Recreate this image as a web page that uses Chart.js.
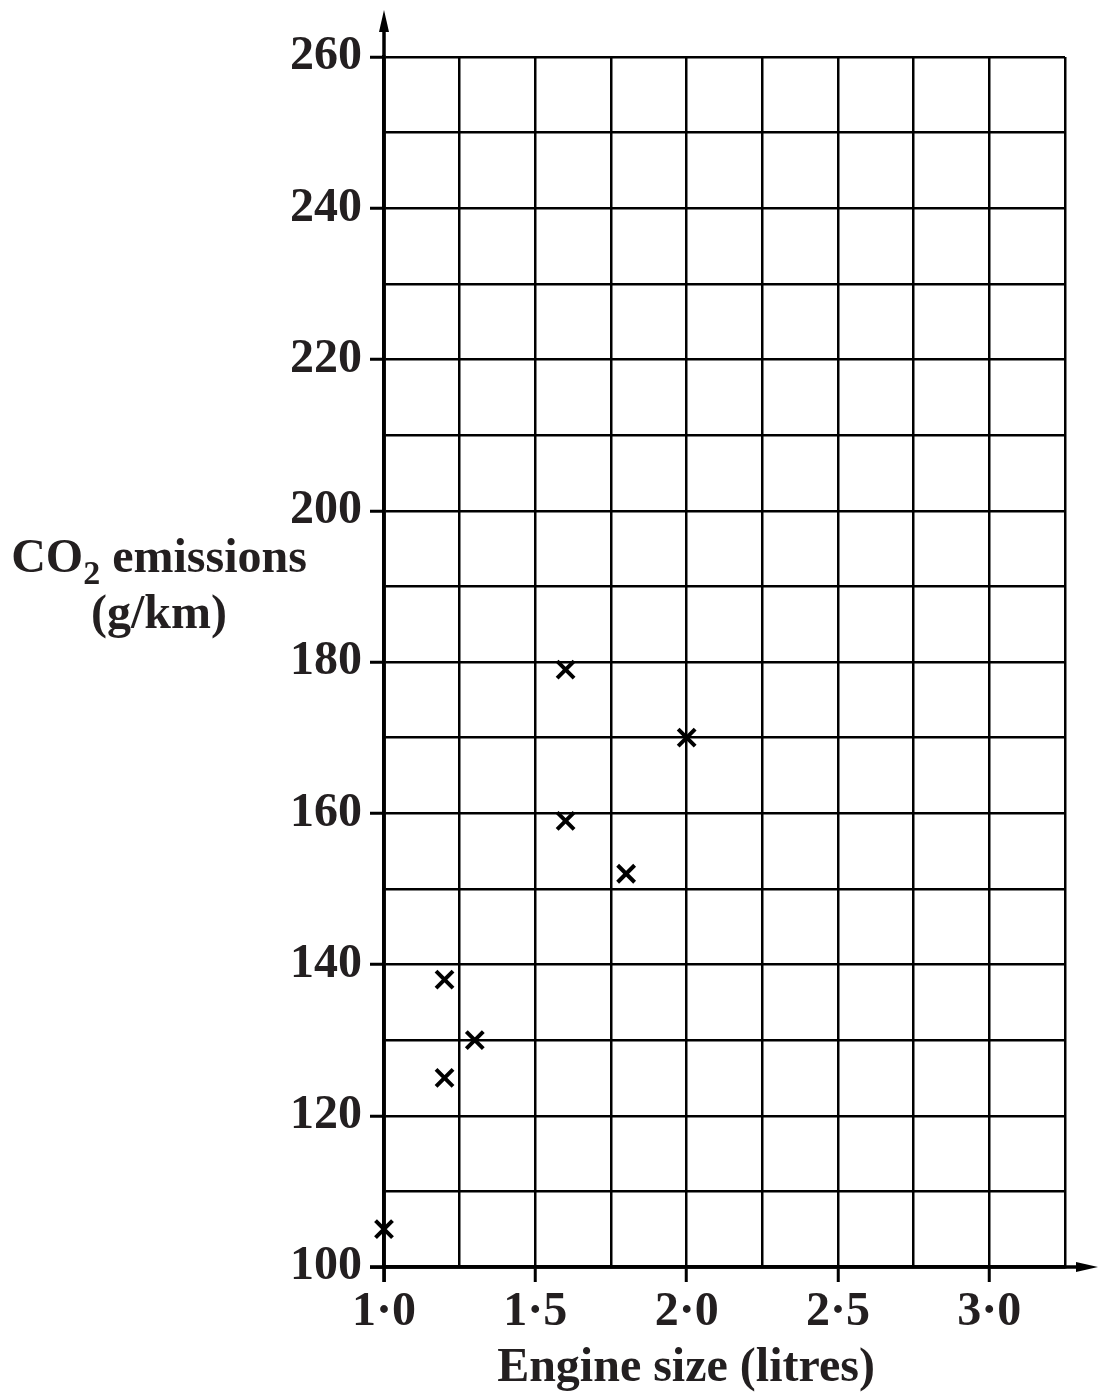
<!DOCTYPE html>
<html>
<head>
<meta charset="utf-8">
<script src="https://cdn.jsdelivr.net/npm/chart.js@4"></script>
<style>
  html,body{margin:0;padding:0;background:#fff;}
  #wrap{width:1107px;height:1392px;}
</style>
</head>
<body>
<div id="wrap"><canvas id="myChart" width="1107" height="1392"></canvas></div>
<script>
// engine size (litres) vs CO2 emissions (g/km)
const engineSize = [1.0, 1.2, 1.2, 1.3, 1.6, 1.6, 1.8, 2.0];
const co2 = [105, 138, 125, 130, 179, 159, 152, 170];
const xTicks = [1.0, 1.5, 2.0, 2.5, 3.0];
const yTicks = [100, 120, 140, 160, 180, 200, 220, 240, 260];

const ink = '#231f20';
const fnt = '"Liberation Serif", "Times New Roman", serif';

const points = engineSize.map((x, i) => ({x: x, y: co2[i]}));

function isLabelX(v){ return xTicks.some(t => Math.abs(t - v) < 1e-6); }
function isLabelY(v){ return yTicks.some(t => Math.abs(t - v) < 1e-6); }

// axis lines with arrows, and the axis titles
const extras = {
  id: 'extras',
  afterDatasetsDraw(chart){
    const c = chart.ctx, a = chart.chartArea;
    const x0 = chart.scales.x.getPixelForValue(1.0);
    const y0 = chart.scales.y.getPixelForValue(100);
    c.save();
    c.strokeStyle = '#000'; c.fillStyle = '#000'; c.lineWidth = 3.5;
    // y axis up to the arrow
    c.beginPath(); c.moveTo(x0, a.bottom + 15); c.lineTo(x0, 22); c.stroke();
    c.beginPath(); c.moveTo(x0, 10); c.lineTo(x0 - 5, 32); c.lineTo(x0 + 5, 32); c.closePath(); c.fill();
    // x axis out to the arrow
    c.beginPath(); c.moveTo(a.left - 14, y0); c.lineTo(1085, y0); c.stroke();
    c.beginPath(); c.moveTo(1098, y0); c.lineTo(1076, y0 - 5); c.lineTo(1076, y0 + 5); c.closePath(); c.fill();

    c.fillStyle = ink;
    c.textBaseline = 'alphabetic';
    // x title
    c.font = 'bold 48px ' + fnt;
    c.textAlign = 'center';
    c.fillText('Engine size (litres)', 686, 1381);
    // y title with subscript
    const big = 'bold 48px ' + fnt, small = 'bold 34px ' + fnt;
    c.font = big; const wCO = c.measureText('CO').width; const wEm = c.measureText(' emissions').width;
    c.font = small; const w2 = c.measureText('2').width;
    let sx = 159 - (wCO + w2 + wEm) / 2;
    c.textAlign = 'left';
    c.font = big; c.fillText('CO', sx, 572);
    c.font = small; c.fillText('2', sx + wCO, 584);
    c.font = big; c.fillText(' emissions', sx + wCO + w2, 572);
    c.textAlign = 'center';
    c.fillText('(g/km)', 159, 628);
    c.restore();
  }
};

const ctx = document.getElementById('myChart').getContext('2d');
const chart = new Chart(ctx, {
  type: 'scatter',
  data: {
    datasets: [{
      data: points,
      pointStyle: 'crossRot',
      pointRadius: 12,
      pointBorderWidth: 4,
      borderColor: '#000',
      backgroundColor: '#000',
      clip: false
    }]
  },
  options: {
    responsive: false,
    animation: false,
    events: [],
    layout: {padding: {left: 0, top: 57, right: 42, bottom: 0}},
    plugins: {legend: {display: false}, tooltip: {enabled: false}},
    scales: {
      x: {
        type: 'linear', min: 1, max: 3.25,
        afterBuildTicks: s => { s.ticks = []; for (let v = 1; v <= 3.2501; v += 0.25) s.ticks.push({value: Math.round(v * 100) / 100}); },
        afterFit: s => { s.height = 125; },
        border: {color: '#000', width: 3.5},
        grid: {
          color: '#000', lineWidth: 2.5,
          tickLength: 15,
          tickColor: c => isLabelX(c.tick.value) ? '#000' : 'rgba(0,0,0,0)',
          tickWidth: 3
        },
        ticks: {
          autoSkip: false, maxRotation: 0, padding: 2,
          color: ink, font: {family: fnt, size: 48, weight: 'bold'},
          callback: v => isLabelX(v) ? v.toFixed(1).replace('.', '\u00b7') : ''
        }
      },
      y: {
        min: 100, max: 260,
        afterBuildTicks: s => { s.ticks = []; for (let v = 100; v <= 260; v += 10) s.ticks.push({value: v}); },
        afterFit: s => { s.width = 384; },
        border: {color: '#000', width: 3.5},
        grid: {
          color: '#000', lineWidth: 2.5,
          tickLength: 14,
          tickColor: c => isLabelY(c.tick.value) ? '#000' : 'rgba(0,0,0,0)',
          tickWidth: 3
        },
        ticks: {
          autoSkip: false, padding: 8,
          color: ink, font: {family: fnt, size: 48, weight: 'bold'},
          callback: v => isLabelY(v) ? String(v) : ''
        }
      }
    }
  },
  plugins: [extras]
});
</script>
</body>
</html>
